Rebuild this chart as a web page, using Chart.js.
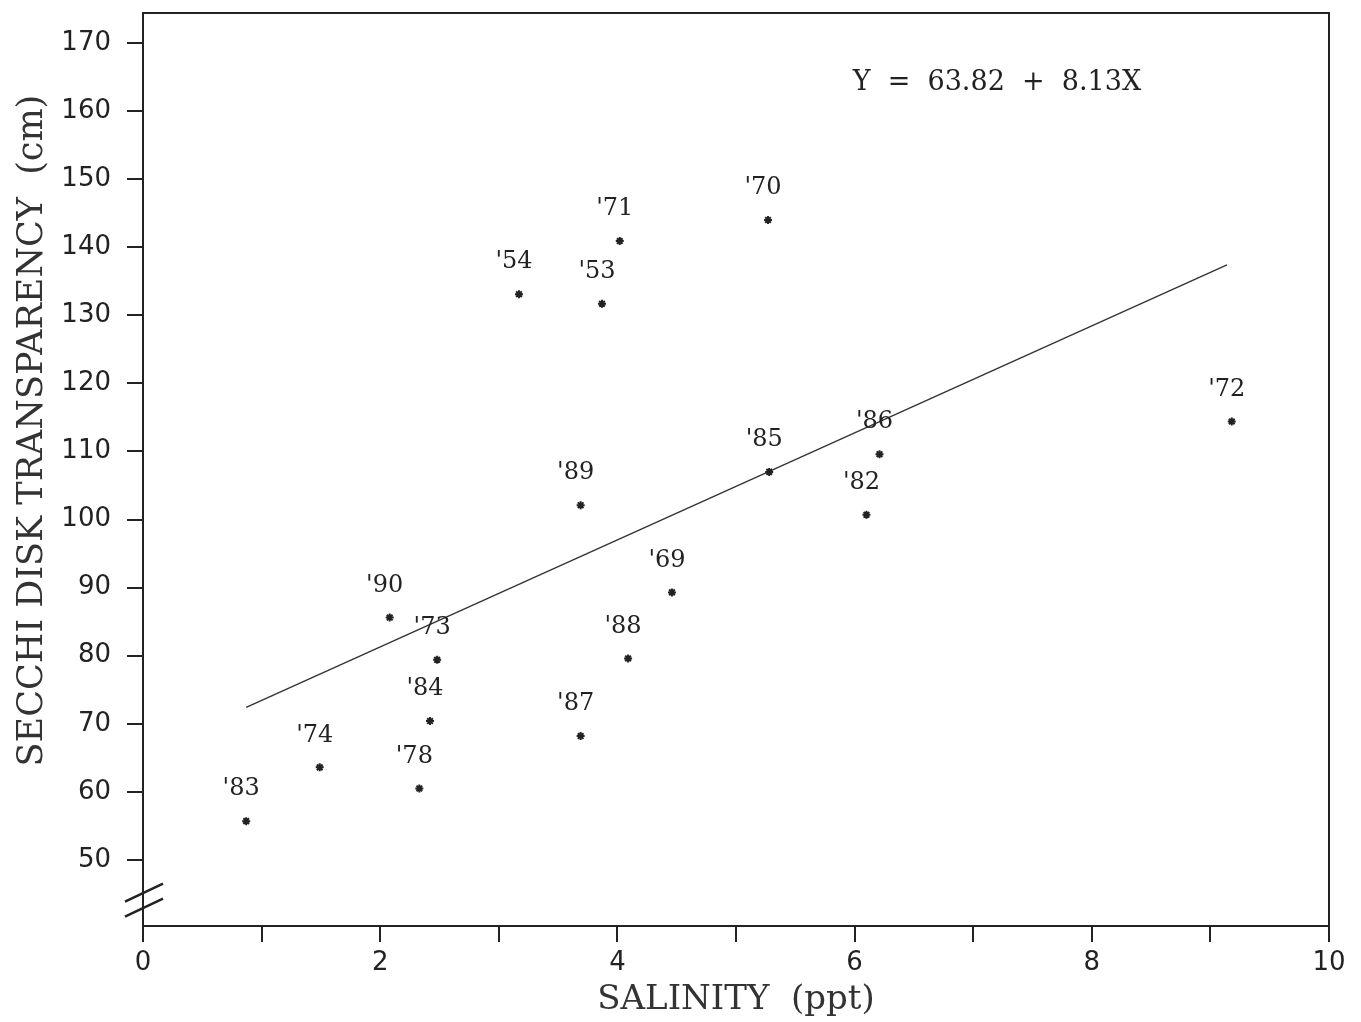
<!DOCTYPE html>
<html>
<head>
<meta charset="utf-8">
<script src="https://cdn.jsdelivr.net/npm/chart.js@4.4.1/dist/chart.umd.min.js"></script>
<style>
  html, body { margin: 0; padding: 0; background: #fff; }
  #wrap { width: 1361px; height: 1022px; }
</style>
</head>
<body>
<div id="wrap"><canvas id="chart"></canvas></div>
<script>
// year labels and readings
const years = ["'83", "'74", "'78", "'84", "'73", "'90", "'87", "'88", "'69", "'89", "'54", "'53", "'71", "'70", "'85", "'86", "'82", "'72"];
const salinity = [0.87, 1.49, 2.33, 2.42, 2.48, 2.08, 3.69, 4.09, 4.46, 3.69, 3.17, 3.87, 4.02, 5.27, 5.28, 6.21, 6.10, 9.18];
const secchi = [55.7, 63.6, 60.5, 70.4, 79.4, 85.6, 68.2, 79.6, 89.3, 102.1, 133.1, 131.7, 140.9, 144.0, 107.0, 109.6, 100.7, 114.4];

// regression line end points as drawn
const fitX = [0.87, 9.14];
const fitY = [72.4, 137.4];

const yTicks = [50, 60, 70, 80, 90, 100, 110, 120, 130, 140, 150, 160, 170];
const xLabelled = [0, 2, 4, 6, 8, 10];
const equation = "Y  =  63.82  +  8.13X";

const ink = "#222";

const yearLabels = {
  id: "yearLabels",
  afterDatasetsDraw(chart) {
    const ctx = chart.ctx;
    const meta = chart.getDatasetMeta(0);
    ctx.save();
    ctx.font = "24px 'DejaVu Serif'";
    ctx.fillStyle = ink;
    ctx.textAlign = "center";
    ctx.textBaseline = "middle";
    meta.data.forEach((pt, i) => {
      ctx.fillText(years[i], pt.x - 5, pt.y - 32);
    });
    // equation
    const xs = chart.scales.x, ys = chart.scales.y;
    ctx.font = "27px 'DejaVu Serif'";
    ctx.fillText(equation, xs.getPixelForValue(7.2), ys.getPixelForValue(164.1));
    ctx.restore();
  }
};

// little double slash on the y axis
const axisBreak = {
  id: "axisBreak",
  afterDraw(chart) {
    const ctx = chart.ctx;
    const ys = chart.scales.y;
    const x0 = chart.chartArea.left;
    ctx.save();
    ctx.strokeStyle = ink;
    ctx.lineWidth = 2.5;
    [45.2, 43.0].forEach(v => {
      const y = ys.getPixelForValue(v);
      ctx.beginPath();
      ctx.moveTo(x0 - 18, y + 9);
      ctx.lineTo(x0 + 20, y - 9);
      ctx.stroke();
    });
    ctx.restore();
  }
};

function noPad(scale) {
  scale.paddingTop = 0;
  scale.paddingBottom = 0;
  scale.paddingLeft = 0;
  scale.paddingRight = 0;
}

new Chart(document.getElementById("chart"), {
  type: "scatter",
  data: {
    datasets: [
      {
        label: "years",
        data: salinity.map((s, i) => ({ x: s, y: secchi[i] })),
        pointStyle: "star",
        pointRadius: 4,
        borderWidth: 2,
        borderColor: ink,
        backgroundColor: ink
      },
      {
        label: "fit",
        type: "line",
        data: fitX.map((x, i) => ({ x: x, y: fitY[i] })),
        showLine: true,
        pointRadius: 0,
        borderWidth: 1.4,
        borderColor: "#333",
        fill: false
      }
    ]
  },
  options: {
    responsive: true,
    maintainAspectRatio: false,
    animation: false,
    layout: { padding: 0 },
    plugins: {
      legend: { display: false },
      tooltip: { enabled: false }
    },
    scales: {
      x: {
        type: "linear",
        position: "bottom",
        min: 0,
        max: 10,
        afterBuildTicks: scale => {
          scale.ticks = [0, 1, 2, 3, 4, 5, 6, 7, 8, 9, 10].map(v => ({ value: v }));
        },
        afterFit: scale => { scale.height = 96; noPad(scale); },
        ticks: {
          padding: 6,
          maxRotation: 0,
          autoSkip: false,
          color: ink,
          font: { family: "'DejaVu Sans'", size: 26 },
          callback: v => xLabelled.includes(v) ? String(v) : ""
        },
        grid: { drawOnChartArea: false, drawTicks: true, tickLength: 16, color: ink, lineWidth: 2 },
        border: { display: true, color: ink, width: 2 },
        title: {
          display: true,
          text: "SALINITY  (ppt)",
          color: "#333",
          font: { family: "'DejaVu Serif'", size: 34 },
          padding: { top: 0, bottom: 1 }
        }
      },
      y: {
        type: "linear",
        position: "left",
        min: 40.3,
        max: 174.4,
        afterBuildTicks: scale => {
          scale.ticks = yTicks.map(v => ({ value: v }));
        },
        afterFit: scale => { scale.width = 143; noPad(scale); },
        ticks: {
          padding: 16,
          color: ink,
          font: { family: "'DejaVu Sans'", size: 26 }
        },
        grid: { drawOnChartArea: false, drawTicks: true, tickLength: 16, color: ink, lineWidth: 2 },
        border: { display: true, color: ink, width: 2 },
        title: {
          display: true,
          text: "       SECCHI DISK TRANSPARENCY  (cm)",
          color: "#333",
          font: { family: "'DejaVu Serif'", size: 35 },
          padding: { top: 12, bottom: 0 }
        }
      },
      x2: {
        type: "linear",
        position: "top",
        display: true,
        min: 0,
        max: 10,
        afterFit: scale => { scale.height = 13; noPad(scale); },
        ticks: { display: false },
        grid: { display: false, drawOnChartArea: false, drawTicks: false },
        border: { display: true, color: ink, width: 2 }
      },
      y2: {
        type: "linear",
        position: "right",
        display: true,
        min: 40.3,
        max: 174.4,
        afterFit: scale => { scale.width = 32; noPad(scale); },
        ticks: { display: false },
        grid: { display: false, drawOnChartArea: false, drawTicks: false },
        border: { display: true, color: ink, width: 2 }
      }
    }
  },
  plugins: [yearLabels, axisBreak]
});
</script>
</body>
</html>
